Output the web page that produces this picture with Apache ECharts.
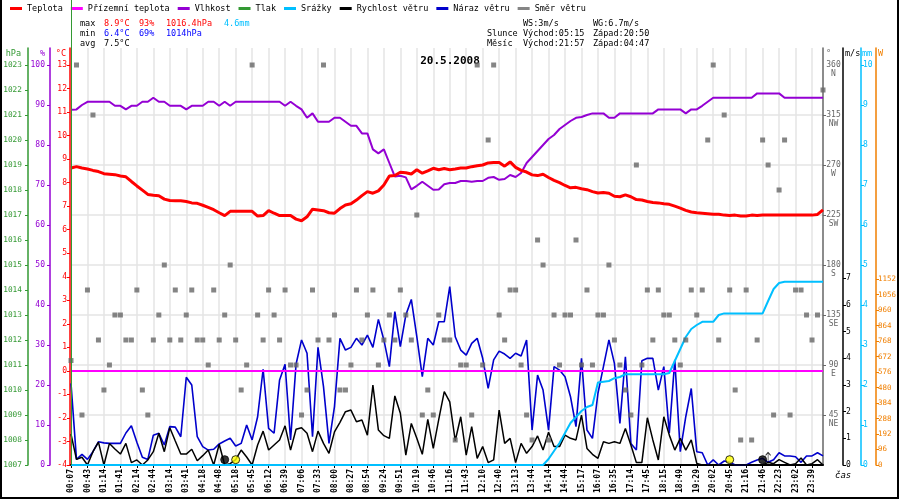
<!DOCTYPE html>
<html><head><meta charset="utf-8">
<script src="https://cdn.jsdelivr.net/npm/echarts@6/dist/echarts.min.js"></script>
<style>html,body{margin:0;padding:0;background:#fff}#c{width:900px;height:500px}</style>
</head><body><div id="c"></div>
<script>
const timeLabels = ['00:07','00:43','01:14','01:41','02:14','02:44','03:14','03:41','04:18','04:48','05:18','05:45','06:12','06:39','07:06','07:33','08:00','08:27','08:54','09:24','09:51','10:19','10:46','11:16','11:43','12:10','12:40','13:13','13:44','14:14','14:44','15:17','16:07','16:35','17:14','17:45','18:15','18:49','19:29','20:02','20:45','21:16','21:46','22:23','23:02','23:39'];

const temperature = [8.62,8.68,8.62,8.58,8.52,8.47,8.38,8.36,8.34,8.28,8.25,8.05,7.86,7.68,7.50,7.46,7.44,7.30,7.24,7.23,
7.23,7.20,7.14,7.12,7.04,6.95,6.85,6.72,6.60,6.78,6.78,6.78,6.78,6.78,6.58,6.60,6.81,6.70,6.60,6.60,
6.60,6.45,6.38,6.55,6.87,6.84,6.81,6.72,6.70,6.90,7.05,7.10,7.26,7.45,7.62,7.55,7.65,7.90,8.28,8.30,
8.44,8.42,8.37,8.55,8.40,8.50,8.61,8.55,8.60,8.55,8.58,8.62,8.62,8.68,8.72,8.75,8.84,8.86,8.86,8.70,
8.88,8.65,8.52,8.45,8.33,8.30,8.36,8.22,8.10,8.00,7.88,7.78,7.80,7.74,7.70,7.62,7.56,7.58,7.55,7.42,
7.40,7.48,7.40,7.28,7.26,7.20,7.16,7.14,7.10,7.08,7.00,6.92,6.82,6.75,6.72,6.70,6.68,6.66,6.66,6.62,
6.60,6.62,6.58,6.58,6.62,6.60,6.62,6.62,6.62,6.62,6.62,6.62,6.62,6.62,6.62,6.62,6.65,6.84];

const humidity = [88.8,88.9,90.0,90.8,90.8,90.8,90.8,90.8,89.8,89.8,88.9,89.8,89.8,90.8,90.8,91.8,90.8,90.8,89.8,89.8,
89.8,88.9,89.8,89.8,89.8,90.8,90.8,89.8,90.8,89.8,90.8,90.8,90.8,90.8,90.8,90.8,90.8,90.8,90.8,89.8,
90.8,89.8,88.9,86.8,87.9,85.8,85.8,85.8,86.8,86.8,85.8,84.8,84.8,82.9,82.9,78.9,77.9,78.9,75.5,72.1,
72.3,71.9,68.9,69.8,70.8,69.8,68.8,68.9,70.2,70.5,70.5,71.0,71.0,70.8,71.0,71.0,71.8,72.0,71.3,71.5,
72.5,72.0,73.0,75.5,77.0,78.5,80.0,81.5,82.5,84.0,85.0,86.0,86.8,87.0,87.5,87.9,87.9,87.9,86.8,86.8,
87.9,87.9,87.9,87.9,87.9,87.9,87.9,88.9,88.9,88.9,88.9,88.9,87.9,88.9,88.9,89.8,90.8,91.8,91.8,91.8,
91.8,91.8,91.8,91.8,91.8,92.9,92.9,92.9,92.9,92.9,91.8,91.8,91.8,91.8,91.8,91.8,91.8,91.8];

const windSpeed = [1.16,0.21,0.29,0.0,0.5,0.86,0.0,0.81,0.6,0.41,0.81,0.09,0.19,0.0,0.19,0.5,1.19,0.5,1.40,0.9,
0.41,0.41,0.59,0.16,0.35,0.56,0.0,0.78,0.0,0.05,0.2,0.56,0.3,0.0,0.75,1.27,0.56,0.75,0.94,1.47,
0.56,1.34,1.40,1.19,0.5,1.27,0.81,0.44,1.24,1.6,2.0,2.06,1.62,1.69,1.12,3.0,1.31,1.1,1.0,2.59,
1.94,0.37,1.56,1.0,0.40,1.71,0.62,1.71,2.75,2.37,0.91,1.81,0.37,1.44,0.25,0.69,0.09,0.19,2.06,0.81,
1.0,0.09,0.81,0.44,0.69,1.09,0.56,1.23,0.69,0.69,1.12,1.0,0.94,1.87,0.62,0.4,0.25,0.87,0.81,0.87,
0.81,1.37,0.75,0.09,0.09,1.77,0.94,0.19,1.81,1.12,0.56,1.0,0.56,0.94,0.06,0,0,0,0,0,
0,0,0,0,0,0,0,0.1,0.05,0.2,0.1,0,0.05,0.26,0,0.05,0.2,0];

const windGust = [3.06,0.21,0.40,0.21,0.5,0.87,0.83,0.81,0.81,0.81,1.2,1.47,0.85,0.29,0.21,1.12,1.19,0.75,1.44,1.42,
1.06,3.29,3.0,1.06,0.69,0.56,0.59,0.79,0.9,1.0,0.71,0.81,1.5,0.94,1.81,3.59,1.37,1.19,3.19,3.78,
0.94,3.78,4.69,4.19,1.06,4.41,2.94,0.81,2.19,4.75,4.31,4.41,4.75,4.5,4.87,4.41,5.46,4.69,3.69,5.75,
4.44,5.62,6.21,4.81,3.31,4.75,4.5,5.37,5.37,6.69,4.81,4.31,4.12,4.56,4.75,4.0,2.87,3.94,4.27,4.16,
4.0,4.19,4.09,4.69,1.31,3.37,2.81,1.31,3.69,3.56,3.31,2.56,1.44,4.0,1.31,1.0,2.69,3.69,4.69,3.81,
1.56,4.06,0.81,0.56,3.91,4.0,4.0,2.81,3.69,1.19,3.94,0.5,1.81,2.87,0.5,0.46,0,0.19,0,0.15,
0.1,0,0,0,0.1,0.19,0.25,0.1,0.2,0.46,0.34,0.34,0.31,0.1,0.34,0.34,0.46,0.34];

const rainTotal = [0,0,0,0,0,0,0,0,0,0,0,0,0,0,0,0,0,0,0,0,
0,0,0,0,0,0,0,0,0,0,0,0,0,0,0,0,0,0,0,0,
0,0,0,0,0,0,0,0,0,0,0,0,0,0,0,0,0,0,0,0,
0,0,0,0,0,0,0,0,0,0,0,0,0,0,0,0,0,0,0,0,
0,0,0,0,0,0,0,0.15,0.35,0.55,0.8,1.05,1.2,1.35,1.45,1.5,2.06,2.08,2.1,2.17,
2.2,2.27,2.27,2.27,2.27,2.27,2.27,2.27,2.27,2.3,2.6,2.9,3.2,3.4,3.5,3.58,3.58,3.58,3.75,3.79,
3.79,3.79,3.79,3.79,3.79,3.79,3.79,4.1,4.4,4.55,4.58,4.58,4.58,4.58,4.58,4.58,4.58,4.58];

const windDir = [94,360,45,157.5,315,112.5,67.5,90,135,135,112.5,112.5,157.5,67.5,45,112.5,135,180,112.5,157.5,
112.5,135,157.5,112.5,112.5,90,157.5,112.5,135,180,112.5,67.5,90,360,135,112.5,157.5,135,112.5,157.5,
90,90,45,67.5,157.5,112.5,360,112.5,135,67.5,67.5,90,157.5,112.5,135,157.5,90,112.5,135,112.5,
157.5,135,112.5,225,45,67.5,45,135,112.5,112.5,22.5,90,90,45,360,90,292.5,360,135,112.5,
157.5,157.5,90,45,22.5,202.5,180,22.5,135,90,135,135,202.5,90,157.5,90,135,135,180,112.5,
90,67.5,45,270,90,157.5,112.5,157.5,135,135,112.5,90,112.5,157.5,135,157.5,292.5,360,112.5,315,
157.5,67.5,22.5,157.5,22.5,112.5,292.5,270,45,247.5,292.5,45,157.5,157.5,135,112.5,135,337.5];

const groundTempLevel = 0;
const sunMoonMarks = [
  {idx: 28, v: 0.2, color: '#000000'},
  {idx: 30, v: 0.2, color: '#ffff00'},
  {idx: 120, v: 0.2, color: '#ffff00'},
  {idx: 126, v: 0.2, color: '#000000'}
];
const moonArrow = [[127, 0.25]];

const tempTicks = [-4,-3,-2,-1,0,1,2,3,4,5,6,7,8,9,10,11,12,13];
const humTicks = [0,10,20,30,40,50,60,70,80,90,100];
const hpaTicks = [1007,1008,1009,1010,1011,1012,1013,1014,1015,1016,1017,1018,1019,1020,1021,1022,1023];
const dirTicks = [45,90,135,180,225,270,315,360];
const dirGrid = [45,90,135,180,225,270,315];
const dirNames = {45:'NE',90:'E',135:'SE',180:'S',225:'SW',270:'W',315:'NW',360:'N'};
const msTicks = [0,1,2,3,4,5,6,7];
const mmTicks = [0,1,2,3,4,5,6,7,8,9,10];
const wTicks = [0,96,192,288,384,480,576,672,768,864,960,1056,1152];

const statsLeft = [
  ['max', '#000000', 80, 24], ['8.9°C', '#ff0000', 104, 24], ['93%', '#ff0000', 139, 24], ['1016.4hPa', '#ff0000', 166, 24], ['4.6mm', '#00bfff', 224, 24],
  ['min', '#000000', 80, 34], ['6.4°C', '#0000ff', 104, 34], ['69%', '#0000ff', 139, 34], ['1014hPa', '#0000ff', 166, 34],
  ['avg', '#000000', 80, 44], ['7.5°C', '#000000', 104, 44],
  ['WS:3m/s', '#000000', 523, 24], ['WG:6.7m/s', '#000000', 593, 24],
  ['Slunce', '#000000', 487, 34], ['Východ:05:15', '#000000', 523, 34], ['Západ:20:50', '#000000', 593, 34],
  ['Měsíc', '#000000', 487, 44], ['Východ:21:57', '#000000', 523, 44], ['Západ:04:47', '#000000', 593, 44]
];

const MONO = '"DejaVu Sans Mono", monospace';
const sampleIds = temperature.map((_, i) => String(i));
const GRID_COLOR = '#e4e4e4';
const plain = v => String(v);

function leftAxis(opts) {
  return {
    type: 'value', position: 'left', offset: opts.offset, min: opts.min, max: opts.max,
    axisLine: {show: true, onZero: false, lineStyle: {color: opts.color, width: 1.5}},
    axisTick: {show: true, length: 3, customValues: opts.ticks, lineStyle: {color: opts.color}},
    axisLabel: {customValues: opts.ticks, margin: opts.margin, color: opts.color, fontFamily: MONO, fontSize: opts.fontSize || 8, formatter: plain},
    splitLine: {show: false},
    name: opts.name, nameLocation: 'end', nameGap: -6,
    nameTextStyle: {color: opts.nameColor || opts.color, align: 'right', verticalAlign: 'middle', padding: [0, opts.namePad, 0, 0], fontFamily: MONO, fontSize: 8.5}
  };
}
function rightAxis(opts) {
  return {
    type: 'value', position: 'right', offset: opts.offset, min: opts.min, max: opts.max,
    axisLine: {show: true, onZero: false, lineStyle: {color: opts.color, width: 1.5}},
    axisTick: {show: true, length: 3, customValues: opts.ticks, lineStyle: {color: opts.color}},
    axisLabel: {customValues: opts.labels || opts.ticks, margin: opts.margin, color: opts.color, fontFamily: MONO, fontSize: opts.fontSize || 8, formatter: plain},
    splitLine: {show: false},
    name: opts.name, nameLocation: 'end', nameGap: -6,
    nameTextStyle: {color: opts.nameColor || opts.color, align: 'left', verticalAlign: 'middle', padding: [0, 0, 0, opts.namePad], fontFamily: MONO, fontSize: 8.5}
  };
}

const dirAxis = rightAxis({offset: 0, min: 0, max: 375.3, color: '#666666', ticks: dirGrid, labels: dirTicks, margin: 3, name: '°', namePad: 3});
dirAxis.splitLine = {show: true, lineStyle: {color: GRID_COLOR, width: 1.5}};
dirAxis.axisLabel.formatter = v => '{n|' + v + '}\n{d|' + dirNames[v] + '}';
dirAxis.axisLabel.padding = [9, 0, 0, 0];
dirAxis.axisLabel.rich = {
  n: {fontFamily: MONO, fontSize: 8, color: '#666666', width: 15, align: 'center', lineHeight: 9},
  d: {fontFamily: MONO, fontSize: 8, color: '#666666', width: 15, align: 'center', lineHeight: 9}
};

const option = {
  animation: false,
  backgroundColor: '#ffffff',
  title: {text: '20.5.2008', left: 'center', top: 51, textStyle: {fontFamily: MONO, fontSize: 11, fontWeight: 'bold', color: '#000'}},
  legend: {
    left: 10, top: 4, padding: 0, itemWidth: 12, itemHeight: 3, itemGap: 8, icon: 'rect',
    textStyle: {fontFamily: MONO, fontSize: 8.5, color: '#000'},
    data: ['Teplota','Přízemní teplota','Vlhkost','Tlak','Srážky','Rychlost větru','Náraz větru','Směr větru']
  },
  grid: {left: 71, right: 77, top: 48, bottom: 35, containLabel: false, outerBoundsMode: 'none'},
  xAxis: {
    type: 'category', data: sampleIds, boundaryGap: false,
    axisLine: {onZero: false, lineStyle: {color: '#000', width: 2}},
    axisTick: {show: true, interval: 2, length: 3, lineStyle: {color: '#000'}},
    axisLabel: {interval: 2, rotate: 90, margin: 4, fontFamily: MONO, fontSize: 8, fontWeight: 'bold', color: '#000',
      formatter: (v, idx) => (idx % 3 === 0 ? (timeLabels[idx / 3] || '') : '')},
    splitLine: {show: true, interval: 2, lineStyle: {color: GRID_COLOR, width: 1.5}},
    name: 'čas', nameLocation: 'end', nameGap: 12,
    nameTextStyle: {fontFamily: MONO, fontSize: 9, fontStyle: 'italic', color: '#000', align: 'left', verticalAlign: 'top', padding: [6, 0, 0, 0]}
  },
  yAxis: [
    leftAxis({offset: 1, min: -4, max: 13.7225, color: '#ff0000', ticks: tempTicks, margin: 3, name: '°C', namePad: 4}),
    leftAxis({offset: 21, min: 0, max: 104.25, color: '#9400d3', ticks: humTicks, margin: 5, name: '%', namePad: 5}),
    leftAxis({offset: 43, min: 1007, max: 1023.68, color: '#339933', ticks: hpaTicks, margin: 6, name: 'hPa', namePad: 7, fontSize: 7.8}),
    dirAxis,
    rightAxis({offset: 20, min: 0, max: 15.6375, color: '#000000', ticks: msTicks, margin: 3, name: 'm/s', namePad: 2}),
    rightAxis({offset: 38, min: 0, max: 10.425, color: '#00bfff', ticks: mmTicks, margin: 2, name: 'mm', namePad: 1}),
    rightAxis({offset: 53, min: 0, max: 2585.4, color: '#f07f00', ticks: wTicks, margin: 2, name: 'W', namePad: 2, fontSize: 7.5})
  ],
  series: [
    {name: 'Teplota', type: 'line', yAxisIndex: 0, data: temperature, symbol: 'none', showSymbol: false,
      lineStyle: {color: '#ff0000', width: 3}, itemStyle: {color: '#ff0000'}, z: 4},
    {name: 'Přízemní teplota', type: 'line', yAxisIndex: 0, data: [], symbol: 'none',
      lineStyle: {color: '#ff00ff', width: 2}, itemStyle: {color: '#ff00ff'}, z: 3,
      markLine: {silent: true, symbol: 'none', label: {show: false}, animation: false,
        lineStyle: {color: '#ff00ff', width: 2, type: 'solid'}, emphasis: {disabled: true},
        data: [{yAxis: groundTempLevel}]}},
    {name: 'Vlhkost', type: 'line', yAxisIndex: 1, data: humidity, symbol: 'none', showSymbol: false,
      lineStyle: {color: '#9400d3', width: 2}, itemStyle: {color: '#9400d3'}, z: 3},
    {name: 'Tlak', type: 'line', yAxisIndex: 2, data: [], symbol: 'none',
      lineStyle: {color: '#339933', width: 2}, itemStyle: {color: '#339933'}, z: 3},
    {name: 'Srážky', type: 'line', yAxisIndex: 5, data: rainTotal, symbol: 'none', showSymbol: false,
      lineStyle: {color: '#00bfff', width: 2}, itemStyle: {color: '#00bfff'}, z: 6},
    {name: 'Rychlost větru', type: 'line', yAxisIndex: 4, data: windSpeed, symbol: 'none', showSymbol: false,
      lineStyle: {color: '#000000', width: 1.5}, itemStyle: {color: '#000000'}, z: 5},
    {name: 'Náraz větru', type: 'line', yAxisIndex: 4, data: windGust, symbol: 'none', showSymbol: false,
      lineStyle: {color: '#0000cc', width: 1.6}, itemStyle: {color: '#0000cc'}, z: 4},
    {name: 'Směr větru', type: 'scatter', yAxisIndex: 3, data: windDir, symbol: 'rect', symbolSize: 5,
      itemStyle: {color: '#666666'}, z: 6},
    {name: 'sunMoon', type: 'scatter', yAxisIndex: 4, symbolSize: 8, z: 7,
      data: sunMoonMarks.map(m => ({value: [m.idx, m.v], itemStyle: {color: m.color, borderColor: '#000', borderWidth: 1}}))},
    {name: 'moonArrow', type: 'scatter', yAxisIndex: 4, z: 7, data: moonArrow,
      symbol: 'path://M2.5,0 L0,3 M2.5,0 L5,3 M2.5,0 L2.5,12', symbolSize: [5, 12],
      itemStyle: {color: 'rgba(0,0,0,0)', borderColor: '#000', borderWidth: 1}}
  ],
  graphic: [
    {type: 'line', z: 50, silent: true, shape: {x1: 71.5, y1: 0, x2: 71.5, y2: 465}, style: {stroke: '#339933', lineWidth: 1}},
    {type: 'polyline', z: 50, silent: true, shape: {points: [[1, 0], [1, 498], [898, 498], [898, 0]]}, style: {stroke: '#000', lineWidth: 2, fill: null}}
  ].concat(statsLeft.map(s => ({
    type: 'text', x: s[2], y: s[3], z: 50, silent: true,
    style: {text: s[0], fill: s[1], font: '8.5px ' + MONO, verticalAlign: 'middle', align: 'left'}
  })))
};

const chart = echarts.init(document.getElementById('c'), null, {renderer: 'canvas'});
chart.setOption(option);
</script>
</body></html>
